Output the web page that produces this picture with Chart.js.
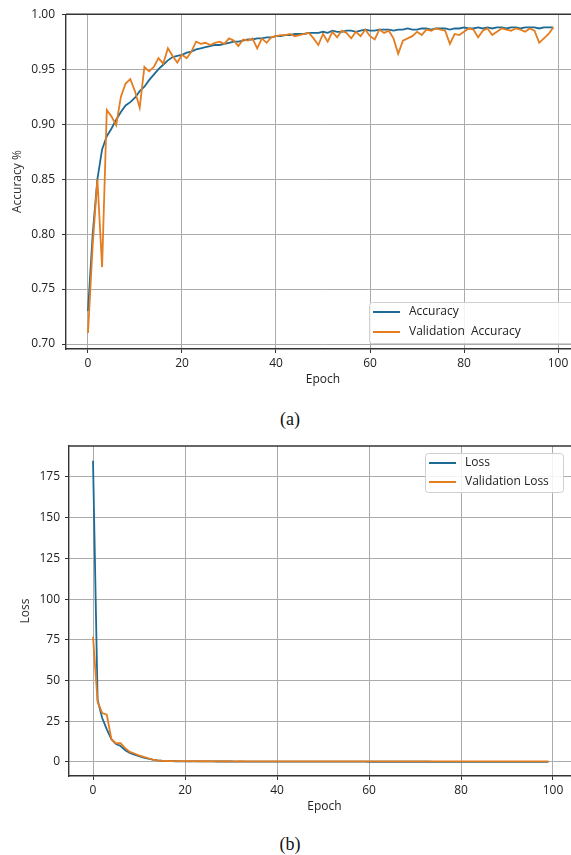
<!DOCTYPE html>
<html>
<head>
<meta charset="utf-8">
<script src="https://cdn.jsdelivr.net/npm/chart.js@4"></script>
<style>
  body { margin: 0; background: #fff; width: 571px; height: 855px; position: relative; overflow: hidden; }
  canvas { position: absolute; left: 0; }
  #accChart { top: 0; }
  #lossChart { top: 430px; }
  .cap { position: absolute; left: 0; width: 580px; text-align: center; font-family: "Liberation Serif", serif; font-size: 18px; color: #111; }
</style>
</head>
<body>
<canvas id="accChart" width="580" height="395"></canvas>
<div class="cap" style="top:409px">(a)</div>
<canvas id="lossChart" width="580" height="392"></canvas>
<div class="cap" style="top:834px">(b)</div>
<script>
var epocas = [];
for (var i = 0; i < 100; i++) epocas.push(i);

var acuracia = [0.730, 0.800, 0.850, 0.877, 0.889, 0.896, 0.904, 0.911, 0.917, 0.920,
    0.924, 0.930, 0.934, 0.940, 0.945, 0.950, 0.954, 0.958, 0.961, 0.962,
    0.963, 0.965, 0.966, 0.968, 0.969, 0.970, 0.971, 0.972, 0.972, 0.973,
    0.974, 0.975, 0.975, 0.976, 0.977, 0.977, 0.978, 0.978, 0.979, 0.979,
    0.980, 0.980, 0.981, 0.981, 0.982, 0.982, 0.982, 0.983, 0.983, 0.983,
    0.984, 0.983, 0.985, 0.984, 0.984, 0.985, 0.985, 0.984, 0.985, 0.986,
    0.985, 0.985, 0.986, 0.986, 0.986, 0.985, 0.986, 0.986, 0.987, 0.986,
    0.986, 0.987, 0.987, 0.986, 0.987, 0.987, 0.987, 0.986, 0.987, 0.987,
    0.988, 0.987, 0.987, 0.988, 0.987, 0.988, 0.987, 0.988, 0.988, 0.987,
    0.988, 0.988, 0.987, 0.988, 0.988, 0.988, 0.987, 0.988, 0.988, 0.988];

var acuraciaValidacao = [0.710, 0.790, 0.850, 0.770, 0.913, 0.907, 0.899, 0.925, 0.937, 0.941,
    0.930, 0.915, 0.952, 0.948, 0.952, 0.960, 0.955, 0.969, 0.962, 0.956,
    0.963, 0.960, 0.966, 0.975, 0.973, 0.974, 0.972, 0.974, 0.975, 0.973,
    0.978, 0.976, 0.971, 0.977, 0.976, 0.978, 0.969, 0.978, 0.974, 0.979,
    0.980, 0.981, 0.981, 0.982, 0.980, 0.981, 0.982, 0.983, 0.978, 0.972,
    0.982, 0.975, 0.984, 0.979, 0.985, 0.983, 0.978, 0.984, 0.980, 0.986,
    0.980, 0.977, 0.986, 0.983, 0.985, 0.978, 0.964, 0.976, 0.978, 0.980,
    0.984, 0.981, 0.986, 0.985, 0.987, 0.986, 0.985, 0.973, 0.982, 0.981,
    0.984, 0.987, 0.986, 0.979, 0.985, 0.987, 0.981, 0.984, 0.987, 0.986,
    0.985, 0.987, 0.986, 0.984, 0.987, 0.985, 0.974, 0.978, 0.982, 0.988];

var perda = [185, 38, 27, 20, 14, 11, 9.8, 7.2, 5.6, 4.5,
    3.6, 2.7, 2.0, 1.4, 1.0, 0.75, 0.6, 0.5, 0.45, 0.42,
    0.40, 0.38, 0.36, 0.35, 0.34, 0.33, 0.32, 0.31, 0.30, 0.29,
    0.29, 0.28, 0.27, 0.27, 0.26, 0.26, 0.25, 0.25, 0.24, 0.24,
    0.23, 0.23, 0.22, 0.22, 0.22, 0.21, 0.21, 0.20, 0.20, 0.20,
    0.19, 0.19, 0.19, 0.18, 0.18, 0.18, 0.17, 0.17, 0.17, 0.17,
    0.16, 0.16, 0.16, 0.16, 0.15, 0.15, 0.15, 0.15, 0.15, 0.14,
    0.14, 0.14, 0.14, 0.14, 0.13, 0.13, 0.13, 0.13, 0.13, 0.13,
    0.12, 0.12, 0.12, 0.12, 0.12, 0.12, 0.12, 0.11, 0.11, 0.11,
    0.11, 0.11, 0.11, 0.11, 0.11, 0.10, 0.10, 0.10, 0.10, 0.10];

var perdaValidacao = [77, 37, 30, 29, 14, 11.5, 11.5, 8.5, 6.2, 5.2,
    4.0, 3.2, 2.3, 1.5, 1.0, 0.7, 0.6, 0.55, 0.5, 0.52,
    0.48, 0.47, 0.49, 0.46, 0.45, 0.47, 0.44, 0.45, 0.43, 0.46,
    0.44, 0.42, 0.45, 0.43, 0.42, 0.44, 0.41, 0.43, 0.42, 0.41,
    0.43, 0.40, 0.42, 0.41, 0.40, 0.42, 0.41, 0.40, 0.43, 0.41,
    0.40, 0.42, 0.40, 0.41, 0.39, 0.42, 0.40, 0.41, 0.39, 0.40,
    0.42, 0.40, 0.39, 0.41, 0.40, 0.39, 0.43, 0.40, 0.39, 0.41,
    0.40, 0.39, 0.40, 0.41, 0.39, 0.40, 0.39, 0.42, 0.40, 0.39,
    0.40, 0.41, 0.39, 0.40, 0.39, 0.41, 0.40, 0.39, 0.40, 0.39,
    0.41, 0.40, 0.39, 0.40, 0.39, 0.40, 0.42, 0.40, 0.39, 0.40];

var ticksEpoca = [0, 20, 40, 60, 80, 100];
var ticksAcuracia = [0.70, 0.75, 0.80, 0.85, 0.90, 0.95, 1.00];
var ticksPerda = [0, 25, 50, 75, 100, 125, 150, 175];

var corAzul = '#1d6a94';
var corLaranja = '#e47d1f';
var corGrade = '#ababab';
var fonte = '"Open Sans", sans-serif';

// so desenha grade nos ticks da lista
function gradeX(c) {
    return (c.tick && ticksEpoca.indexOf(c.tick.value) >= 0) ? corGrade : 'rgba(0,0,0,0)';
}

// moldura superior e legenda desenhada no canvas
function pluginMoldura(legenda) {
    return {
        id: 'moldura',
        afterDraw: function (chart) {
            var ctx = chart.ctx, a = chart.chartArea;
            ctx.save();
            ctx.strokeStyle = '#333';
            ctx.lineWidth = 1.4;
            ctx.beginPath();
            ctx.moveTo(a.left, a.top);
            ctx.lineTo(a.right, a.top);
            ctx.stroke();

            var L = legenda;
            ctx.fillStyle = 'rgba(255,255,255,0.85)';
            ctx.strokeStyle = '#d0d0d0';
            ctx.lineWidth = 1;
            ctx.beginPath();
            ctx.roundRect(L.x + 0.5, L.y + 0.5, L.w, L.h, 3);
            ctx.fill();
            ctx.stroke();
            ctx.font = '12px ' + fonte;
            ctx.textBaseline = 'middle';
            chart.data.datasets.forEach(function (ds, k) {
                var yy = L.y + L.primeiraLinha + k * L.passo;
                ctx.strokeStyle = ds.borderColor;
                ctx.lineWidth = 2;
                ctx.beginPath();
                ctx.moveTo(L.x + 4, yy);
                ctx.lineTo(L.x + 31, yy);
                ctx.stroke();
                ctx.fillStyle = '#222';
                ctx.fillText(ds.label, L.x + 40, yy);
            });
            ctx.restore();
        }
    };
}

function opcoes(cfg) {
    return {
        responsive: false,
        animation: false,
        layout: { padding: { top: cfg.topo, left: 0, right: 0, bottom: 0 } },
        plugins: { legend: { display: false }, tooltip: { enabled: false } },
        elements: { point: { radius: 0 }, line: { borderWidth: 1.8, tension: 0 } },
        scales: {
            x: {
                type: 'linear',
                min: cfg.xmin,
                max: cfg.xmax,
                afterBuildTicks: function (s) { s.ticks = ticksEpoca.map(function (v) { return { value: v }; }); },
                afterFit: function (s) { s.height = 46; },
                border: { color: '#333', width: 1.4 },
                grid: { color: gradeX, lineWidth: 1, tickLength: 4, tickColor: '#333' },
                ticks: { color: '#222', font: { family: fonte, size: 12 }, padding: 3, maxRotation: 0, autoSkip: false },
                title: { display: true, text: 'Epoch', color: '#222', font: { family: fonte, size: 12 }, padding: { top: 0, bottom: 8 } }
            },
            y: {
                min: cfg.ymin,
                max: cfg.ymax,
                afterBuildTicks: function (s) { s.ticks = cfg.yticks.map(function (v) { return { value: v }; }); },
                afterFit: function (s) { s.width = cfg.largura; },
                border: { color: '#333', width: 1.4 },
                grid: { color: corGrade, lineWidth: 1, tickLength: 4, tickColor: '#333' },
                ticks: { color: '#222', font: { family: fonte, size: 12 }, padding: cfg.pad, callback: cfg.fmt },
                title: { display: true, text: cfg.titulo, color: '#333', font: { family: fonte, size: 12 }, padding: { top: cfg.tituloPad, bottom: 0 } }
            }
        }
    };
}

new Chart(document.getElementById('accChart').getContext('2d'), {
    type: 'line',
    data: {
        labels: epocas,
        datasets: [
            { label: 'Accuracy', data: acuracia, borderColor: corAzul, order: 1 },
            { label: 'Validation  Accuracy', data: acuraciaValidacao, borderColor: corLaranja, order: 0 }
        ]
    },
    options: opcoes({
        topo: 13, xmin: -4.68, xmax: 104.68, ymin: 0.6955, ymax: 1.0,
        yticks: ticksAcuracia, largura: 66, pad: 7, tituloPad: 10,
        titulo: 'Accuracy %', fmt: function (v) { return v.toFixed(2); }
    }),
    plugins: [pluginMoldura({ x: 369, y: 302, w: 215, h: 41, primeiraLinha: 10, passo: 20 })]
});

new Chart(document.getElementById('lossChart').getContext('2d'), {
    type: 'line',
    data: {
        labels: epocas,
        datasets: [
            { label: 'Loss', data: perda, borderColor: corAzul, order: 1 },
            { label: 'Validation Loss', data: perdaValidacao, borderColor: corLaranja, order: 0 }
        ]
    },
    options: opcoes({
        topo: 16, xmin: -5.22, xmax: 105.87, ymin: -8.6, ymax: 194,
        yticks: ticksPerda, largura: 69, pad: 5, tituloPad: 18,
        titulo: 'Loss', fmt: function (v) { return v; }
    }),
    plugins: [pluginMoldura({ x: 425, y: 23, w: 138, h: 39, primeiraLinha: 10, passo: 19 })]
});
</script>
</body>
</html>
